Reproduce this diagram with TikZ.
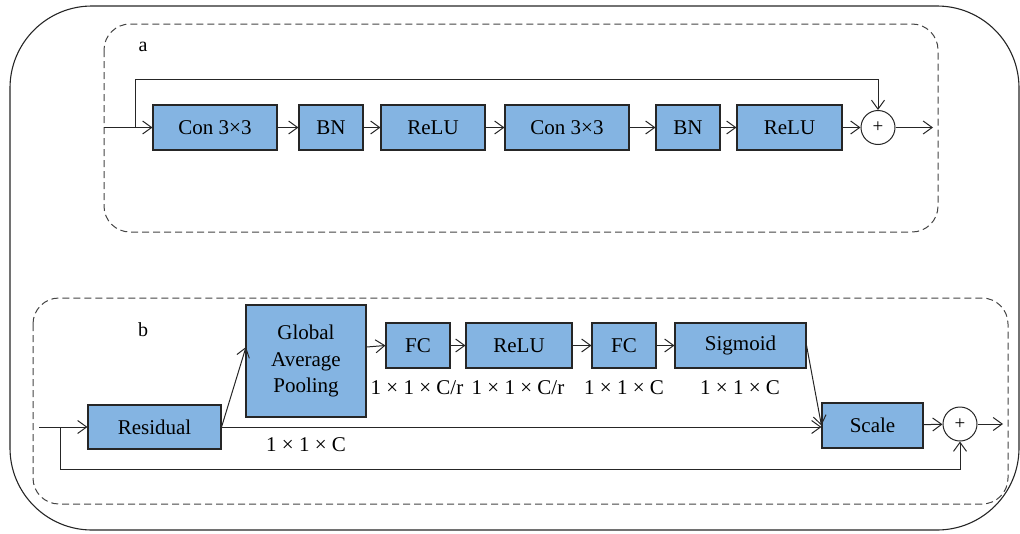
\documentclass[tikz,border=0pt]{standalone}
\usepackage{fontspec}
\setmainfont{Liberation Serif}
\usetikzlibrary{arrows.meta,calc}
\definecolor{boxblue}{HTML}{84B4E2}
\definecolor{edge}{HTML}{262626}
\definecolor{dashgray}{HTML}{444444}
\tikzset{
  blk/.style={draw=edge, line width=1.1pt, fill=boxblue, inner sep=0pt, minimum height=45pt, font=\rmfamily\fontsize{21}{26.5}\selectfont, align=center},
  plusnode/.style={draw=edge, line width=1pt, circle, fill=white, minimum size=34pt, inner sep=0pt, font=\rmfamily\fontsize{19}{19}\selectfont},
  conn/.style={draw=edge, line width=1pt, -{Straight Barb[length=9pt,width=13pt,line width=1pt]}},
  dimlabel/.style={font=\rmfamily\fontsize{21}{24}\selectfont, inner sep=0pt},
  grouplabel/.style={font=\rmfamily\fontsize{20}{22}\selectfont, inner sep=0pt},
  groupbox/.style={draw=dashgray, line width=1pt, dash pattern=on 7pt off 4pt, rounded corners=26pt},
}
\begin{document}
\begin{tikzpicture}[x=1pt,y=-1pt]
\useasboundingbox (0,0) rectangle (1020,533);
% outer frame
\draw[draw=edge, line width=1.1pt, rounded corners=82pt] (10,6) rectangle (1019,530);
% group boxes
\draw[groupbox] (104,24) rectangle (938,232);
\draw[groupbox] (33,298) rectangle (1008,504);
\node[grouplabel] (la) at (143,47) {a};
\node[grouplabel] (lb) at (143,330) {b};

% ---- part a ----
\node[blk, minimum width=124pt] (c1) at (215,127.5) {Con 3×3};
\node[blk, minimum width=64pt]  (b1) at (331,127.5) {BN};
\node[blk, minimum width=104pt] (r1) at (433,127.5) {ReLU};
\node[blk, minimum width=124pt] (c2) at (567,127.5) {Con 3×3};
\node[blk, minimum width=64pt]  (b2) at (688,127.5) {BN};
\node[blk, minimum width=105pt] (r2) at (789.5,127.5) {ReLU};
\node[plusnode] (pa) at (878,127.5) {+};
\coordinate (ina) at (104,127.5);
\coordinate (sa) at (135,127.5);
\coordinate (outa) at (933,127.5);
\draw[conn] (ina) -- (c1.west);
\draw[conn] (c1) -- (b1);
\draw[conn] (b1) -- (r1);
\draw[conn] (r1) -- (c2);
\draw[conn] (c2) -- (b2);
\draw[conn] (b2) -- (r2);
\draw[conn] (r2) -- (pa);
\draw[conn] (pa) -- (outa);
\draw[conn] (sa) -- (sa |- 0,79) -| (pa.north);

% ---- part b ----
\node[blk, minimum width=133pt, minimum height=44pt] (res) at (154.5,427) {Residual};
\node[blk, minimum width=120pt, minimum height=112pt] (gap) at (306,361) {Global\\Average\\Pooling};
\node[blk, minimum width=64pt]  (fc1) at (418,345.5) {FC};
\node[blk, minimum width=106pt] (rb)  at (519,345.5) {ReLU};
\node[blk, minimum width=64pt]  (fc2) at (624,345.5) {FC};
\node[blk, minimum width=131pt] (sig) at (740.5,345.5) {Sigmoid};
\node[blk, minimum width=101pt] (sc)  at (872.5,425.5) {Scale};
\node[plusnode] (pb) at (960,424) {+};
\coordinate (inb) at (39,427);
\coordinate (sb) at (60,427);
\coordinate (outb) at (1003,424);
\coordinate (gapin) at (246,347);
\draw[conn] (inb) -- (res.west);
\draw[conn] (res.east) -- (gapin);
\draw[conn] (gapin -| gap.east) -- (fc1.west);
\draw[conn] (fc1) -- (rb);
\draw[conn] (rb) -- (fc2);
\draw[conn] (fc2) -- (sig);
\draw[conn] (sig.east) -- (sc.west);
\draw[conn] (res.east) -- (res.east -| sc.west);
\draw[conn] (sc) -- (pb);
\draw[conn] (pb) -- (outb);
\draw[conn] (sb) -- (sb |- 0,469) -| (pb.south);

% dimension labels
\node[dimlabel] (d1) at (417,388) {1 × 1 × C/r};
\node[dimlabel] (d2) at (518,388) {1 × 1 × C/r};
\node[dimlabel] (d3) at (624,388) {1 × 1 × C};
\node[dimlabel] (d4) at (740,388) {1 × 1 × C};
\node[dimlabel] (d5) at (306,445) {1 × 1 × C};
\end{tikzpicture}
\end{document}
